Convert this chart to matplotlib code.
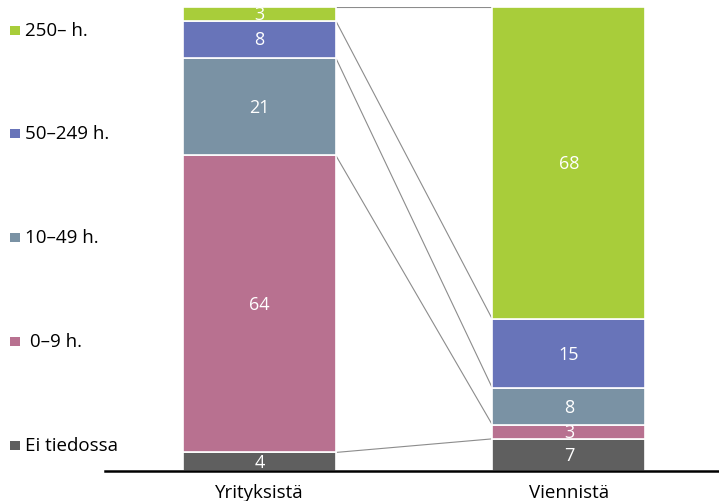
import matplotlib
matplotlib.use("Agg")
import matplotlib.pyplot as plt
from matplotlib.patches import Rectangle

categories = ["Yrityksistä", "Viennistä"]
series = ["Ei tiedossa", " 0–9 h.", "10–49 h.", "50–249 h.", "250– h."]
values = {
    "Yrityksistä": [4, 64, 21, 8, 3],
    "Viennistä": [7, 3, 8, 15, 68],
}
colors = ["#5f5f5f", "#b87190", "#7a92a4", "#6874b9", "#a8cd3a"]

plt.rcParams['font.family'] = ['Open Sans', 'DejaVu Sans']

W, H = 719, 502
fig = plt.figure(figsize=(W / 100, H / 100), dpi=100)
ax = fig.add_axes([105 / W, (H - 472) / H, (W - 105) / W, 464 / H])

bar_w = 0.494
tops = []
for i, cat in enumerate(categories):
    vals = values[cat]
    total = sum(vals)
    pct = [v / total * 100 for v in vals]
    bottom = 0
    cum = []
    for v, p, c in zip(vals, pct, colors):
        ax.bar(i, p, bottom=bottom, width=bar_w, color=c, edgecolor="white", linewidth=1.2, zorder=3)
        ax.text(i, bottom + p / 2, str(v), ha="center", va="center", color="white", fontsize=13, zorder=4)
        bottom += p
        cum.append(bottom)
    tops.append(cum)

for a, b in zip(tops[0], tops[1]):
    ax.plot([0 + bar_w / 2, 1 - bar_w / 2], [a, b], color="#8c8c8c", lw=0.8, zorder=2)

ax.set_xlim(-0.499, 1.485)
ax.set_ylim(0, 100)
for s in ["top", "right", "left"]:
    ax.spines[s].set_visible(False)
ax.spines["bottom"].set_linewidth(1.8)
ax.spines["bottom"].set_color("black")
ax.spines["bottom"].set_zorder(5)
ax.set_yticks([])
ax.set_xticks([0, 1])
ax.set_xticklabels(categories, fontsize=13.5)
ax.tick_params(axis="x", length=0, pad=9)

# legend (custom, evenly spaced)
leg_y = [446, 342, 238, 134, 31]
for lab, c, y in zip(series, colors, leg_y):
    fig.patches.append(Rectangle((10 / W, (H - y - 4.5) / H), 10 / W, 9 / H, transform=fig.transFigure,
                                 facecolor=c, edgecolor="none"))
    fig.text(25 / W, (H - y) / H, lab, ha="left", va="center", fontsize=13.5)

fig.savefig("out.png", dpi=100)
